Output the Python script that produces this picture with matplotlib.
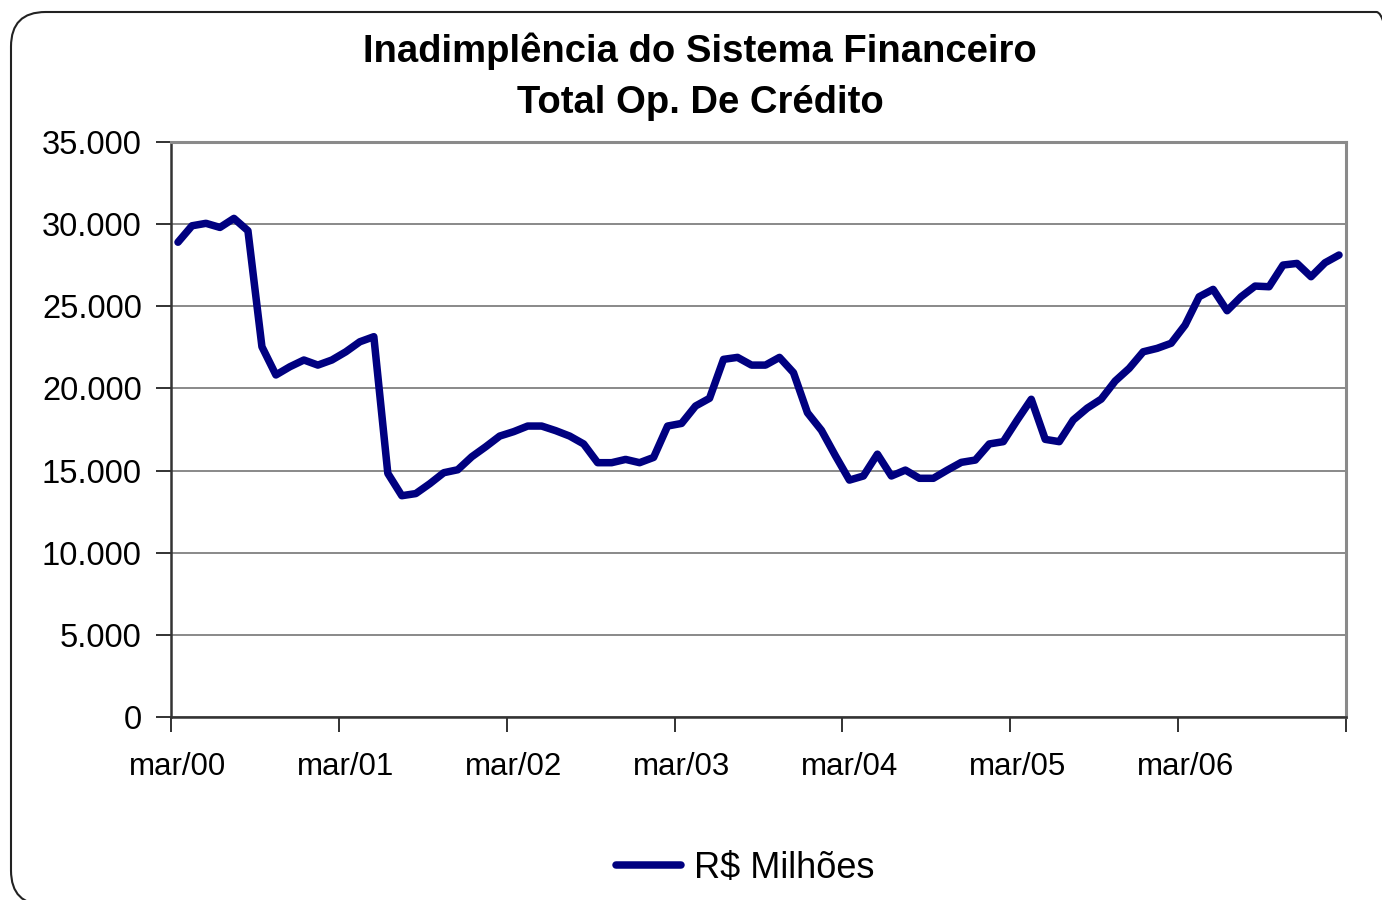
import matplotlib
matplotlib.use('Agg')
import matplotlib.pyplot as plt
from matplotlib.patches import FancyBboxPatch
from matplotlib.ticker import FixedLocator, FuncFormatter

plt.rcParams['font.family'] = ['Liberation Sans', 'DejaVu Sans']

# monthly values, mar/00 .. feb/07 (R$ milhoes)
values = [
    28900, 29900, 30050, 29800, 30350, 29600, 22540, 20820, 21320, 21730, 21420, 21730,
    22230, 22840, 23150, 14830, 13470, 13600, 14200, 14870, 15050, 15840, 16450, 17100,
    17370, 17710, 17710, 17430, 17100, 16620, 15480, 15480, 15680, 15480, 15800, 17710,
    17870, 18930, 19400, 21770, 21890, 21420, 21420, 21890, 20960, 18520, 17450, 15900,
    14420, 14670, 16000, 14670, 15030, 14530, 14530, 15030, 15500, 15640, 16620, 16760,
    18080, 19340, 16900, 16760, 18080, 18800, 19350, 20450, 21220, 22230, 22440, 22750,
    23860, 25580, 26030, 24730, 25580, 26230, 26190, 27510, 27610, 26800, 27650, 28120,
]
year_labels = ['mar/00', 'mar/01', 'mar/02', 'mar/03', 'mar/04', 'mar/05', 'mar/06']
y_ticks = [0, 5000, 10000, 15000, 20000, 25000, 30000, 35000]
title = 'Inadimplência do Sistema Financeiro\nTotal Op. De Crédito'
series_name = 'R$ Milhões'

W, H = 1382, 900
fig = plt.figure(figsize=(W / 100, H / 100), dpi=100)

# rounded outer frame (runs off the right and bottom edges)
frame = FancyBboxPatch((11 / W, (H - 905) / H), 1400 / W, 893 / H,
                       boxstyle='round,pad=0,rounding_size=0.025',
                       transform=fig.transFigure, fill=False,
                       edgecolor='#222222', linewidth=1.5, mutation_aspect=W / H)
fig.patches.append(frame)

ax = fig.add_axes([171 / W, (H - 717) / H, (1346 - 171) / W, (717 - 142) / H])
x = list(range(len(values)))
line, = ax.plot(x, values, color='#000080', linewidth=5.4,
                solid_joinstyle='round', solid_capstyle='round', label=series_name)

ax.set_xlim(-0.5, len(values) - 0.5)
ax.set_ylim(0, 35000)
ax.set_yticks(y_ticks)
ax.yaxis.set_major_formatter(FuncFormatter(lambda v, p: f'{int(v):,}'.replace(',', '.')))
ax.grid(axis='y', color='#808080', linewidth=1.3)
ax.set_axisbelow(True)

# tick marks between years, labels under the first month of each year
ax.xaxis.set_major_locator(FixedLocator([i * 12 - 0.5 for i in range(8)]))
ax.xaxis.set_minor_locator(FixedLocator([i * 12 for i in range(len(year_labels))]))
ax.set_xticklabels([], minor=False)
ax.set_xticklabels(year_labels, minor=True)
ax.tick_params(axis='x', which='major', length=11, width=1.3, color='#222222')
ax.tick_params(axis='x', which='minor', length=0, pad=25, labelsize=22.5)
ax.tick_params(axis='y', length=11, width=1.3, color='#222222', pad=10, labelsize=23.5)

for side in ['left', 'bottom']:
    ax.spines[side].set_color('#333333')
    ax.spines[side].set_linewidth(1.8)
for side in ['top', 'right']:
    ax.spines[side].set_color('#8a8a8a')
    ax.spines[side].set_linewidth(2.2)

fig.text(700 / W, 1 - 51 / H, title.split('\n')[0], ha='center', va='center',
         fontsize=27.5, fontweight='bold')
fig.text(700 / W, 1 - 103 / H, title.split('\n')[1], ha='center', va='center',
         fontsize=27.5, fontweight='bold')

leg = fig.legend(handles=[line], loc='center', bbox_to_anchor=(745 / W, 1 - 868 / H),
                 frameon=False, fontsize=26, handlelength=1.8, handletextpad=0.35)

fig.savefig('out.png', dpi=100)
